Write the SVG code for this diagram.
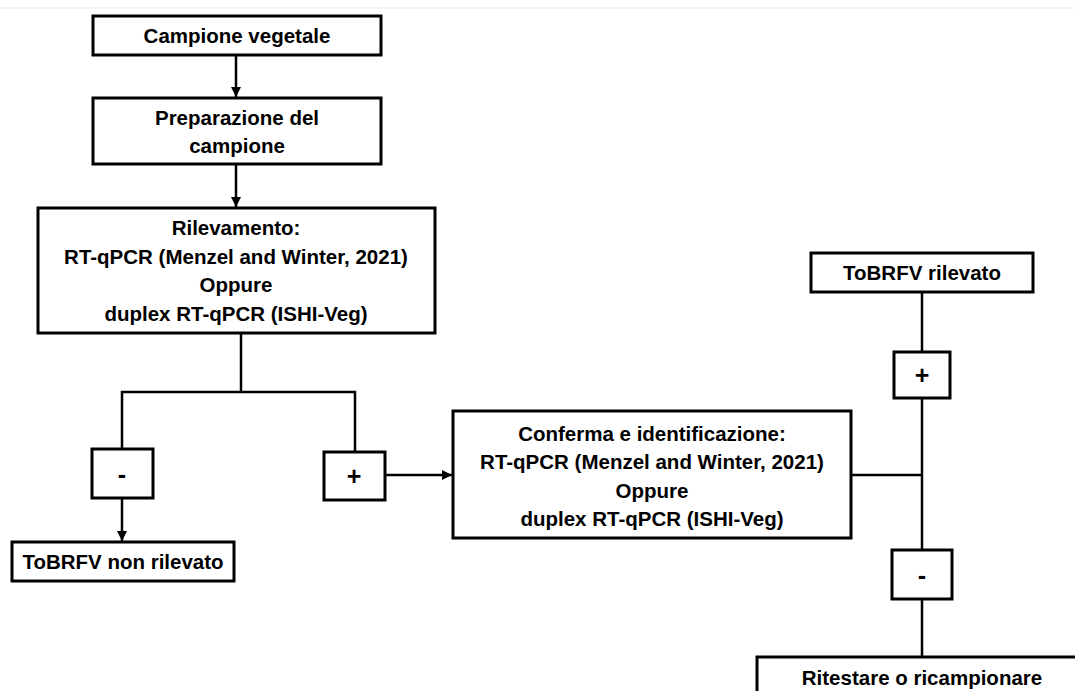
<svg xmlns="http://www.w3.org/2000/svg" width="1075" height="691" viewBox="0 0 1075 691">
<style>
.box{fill:#fff;stroke:#000;stroke-width:3}
.t{font-family:"Liberation Sans",Arial,sans-serif;font-weight:bold;font-size:20.5px;fill:#000;text-anchor:middle}
.s{font-size:25px}
.c{fill:none;stroke:#000;stroke-width:2.5}
</style>
<defs>
<marker id="ah" viewBox="0 0 10 10" refX="10" refY="5" markerWidth="4" markerHeight="4" orient="auto" markerUnits="strokeWidth">
<path d="M0,0 L10,5 L0,10 z" fill="#000"/>
</marker>
</defs>
<rect width="1075" height="691" fill="#fff"/>
<line x1="0" y1="8" x2="1075" y2="8" stroke="#f0f0f0" stroke-width="1.5"/>
<g id="connectors">
<line class="c" x1="236" y1="55" x2="236" y2="97" marker-end="url(#ah)"/>
<line class="c" x1="236" y1="164" x2="236" y2="207" marker-end="url(#ah)"/>
<polyline class="c" points="241,333 241,392"/>
<polyline class="c" points="122,449 122,392 355,392 355,452"/>
<line class="c" x1="122" y1="498" x2="122" y2="541" marker-end="url(#ah)"/>
<line class="c" x1="385" y1="475" x2="452" y2="475" marker-end="url(#ah)"/>
<line class="c" x1="922" y1="292" x2="922" y2="352"/>
<line class="c" x1="922" y1="398" x2="922" y2="550"/>
<line class="c" x1="851" y1="475" x2="922" y2="475"/>
<line class="c" x1="922" y1="599" x2="922" y2="657"/>
</g>
<g id="n1"><rect class="box" x="93" y="16" width="288" height="39"/><text class="t" x="237" y="43">Campione vegetale</text></g>
<g id="n2"><rect class="box" x="93" y="98" width="288" height="66"/><text class="t" x="237" y="125">Preparazione del</text><text class="t" x="237" y="153">campione</text></g>
<g id="n3"><rect class="box" x="38" y="208" width="397" height="125"/>
<text class="t" x="236" y="235">Rilevamento:</text>
<text class="t" x="236" y="264">RT-qPCR (Menzel and Winter, 2021)</text>
<text class="t" x="236" y="292">Oppure</text>
<text class="t" x="236" y="321">duplex RT-qPCR (ISHI-Veg)</text></g>
<g id="minus1"><rect class="box" x="92" y="449" width="61" height="49"/><text class="t s" x="122" y="483">-</text></g>
<g id="plus1"><rect class="box" x="324" y="452" width="61" height="48"/><text class="t s" x="354" y="485">+</text></g>
<g id="n4"><rect class="box" x="12" y="542" width="222" height="39"/><text class="t" x="123" y="569">ToBRFV non rilevato</text></g>
<g id="n5"><rect class="box" x="453" y="411" width="398" height="127"/>
<text class="t" x="652" y="441">Conferma e identificazione:</text>
<text class="t" x="652" y="469">RT-qPCR (Menzel and Winter, 2021)</text>
<text class="t" x="652" y="498">Oppure</text>
<text class="t" x="652" y="526">duplex RT-qPCR (ISHI-Veg)</text></g>
<g id="n6"><rect class="box" x="811" y="253" width="222" height="39"/><text class="t" x="922" y="280">ToBRFV rilevato</text></g>
<g id="plus2"><rect class="box" x="894" y="352" width="56" height="46"/><text class="t s" x="922" y="384">+</text></g>
<g id="minus2"><rect class="box" x="892" y="550" width="60" height="49"/><text class="t s" x="922" y="584">-</text></g>
<g id="n7"><rect class="box" x="757" y="657" width="330" height="45"/><text class="t" x="922" y="685">Ritestare o ricampionare</text></g>
</svg>
